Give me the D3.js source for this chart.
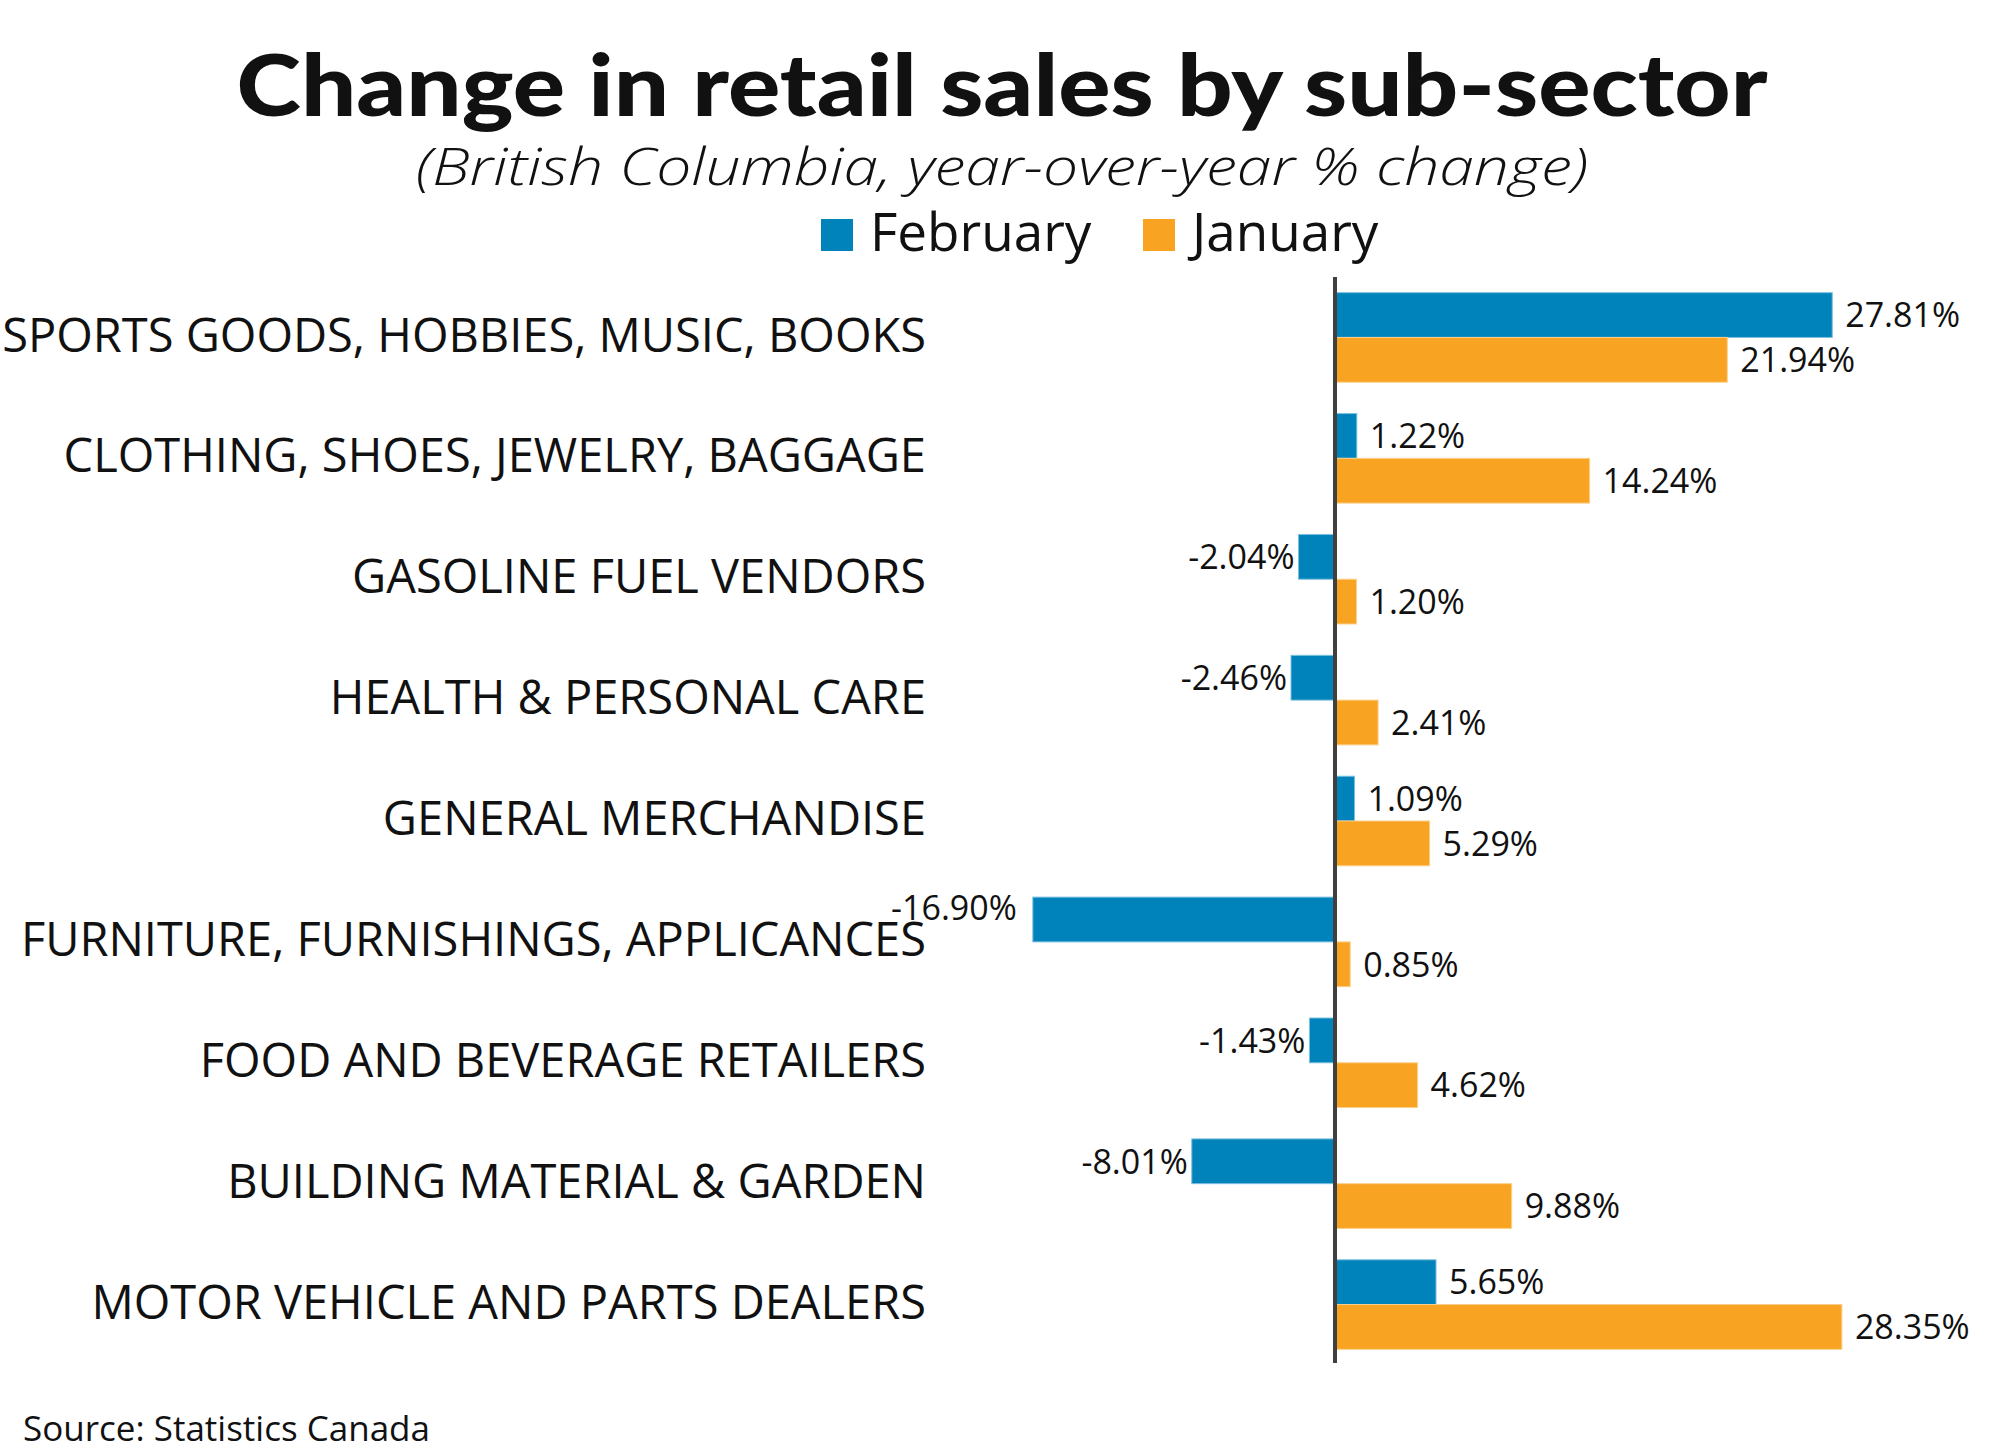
<!DOCTYPE html>
<html>
<head>
<meta charset="utf-8">
<script src="https://cdn.jsdelivr.net/npm/d3@7"></script>
<style>
  body { margin: 0; background: #fff; }
  text { font-family: 'Open Sans', sans-serif; fill: #111; }
</style>
</head>
<body>
<svg id="chart" width="2000" height="1451"></svg>
<script>
// Chart data
var categories = [
    'SPORTS GOODS, HOBBIES, MUSIC, BOOKS',
    'CLOTHING, SHOES, JEWELRY, BAGGAGE',
    'GASOLINE FUEL VENDORS',
    'HEALTH & PERSONAL CARE',
    'GENERAL MERCHANDISE',
    'FURNITURE, FURNISHINGS, APPLICANCES',
    'FOOD AND BEVERAGE RETAILERS',
    'BUILDING MATERIAL & GARDEN',
    'MOTOR VEHICLE AND PARTS DEALERS'
];
var seriesNames = ['February', 'January'];
var february = [27.81, 1.22, -2.04, -2.46, 1.09, -16.90, -1.43, -8.01, 5.65];
var january = [21.94, 14.24, 1.20, 2.41, 5.29, 0.85, 4.62, 9.88, 28.35];
var seriesColors = ['#0083bb', '#f8a321'];
var seriesStroke = ['#7cc0de', '#fbd08a'];

var svg = d3.select('#chart');

// Title block (stretched a little to the width of the original's wide face)
svg.append('text')
    .attr('x', 1002).attr('y', 116)
    .attr('text-anchor', 'middle')
    .attr('textLength', 1531)
    .attr('lengthAdjust', 'spacingAndGlyphs')
    .style('font-family', 'Lato, sans-serif')
    .style('font-weight', 900)
    .style('font-size', '86px')
    .text('Change in retail sales by sub-sector');

svg.append('text')
    .attr('x', 1002).attr('y', 185)
    .attr('text-anchor', 'middle')
    .attr('textLength', 1172)
    .attr('lengthAdjust', 'spacingAndGlyphs')
    .style('font-style', 'italic')
    .style('font-weight', 300)
    .style('font-size', '52px')
    .text('(British Columbia, year-over-year % change)');

// Legend
var legend = svg.append('g').attr('transform', 'translate(821,0)');
var legendX = [0, 322];
seriesNames.forEach(function(name, i) {
    var g = legend.append('g').attr('transform', 'translate(' + legendX[i] + ',0)');
    g.append('rect')
        .attr('x', 0).attr('y', 219)
        .attr('width', 32).attr('height', 32)
        .attr('fill', seriesColors[i]);
    g.append('text')
        .attr('x', 49).attr('y', 251)
        .style('font-size', '53px')
        .text(name);
});

// Scales
var x = d3.scaleLinear().domain([-20, 30]).range([1335 - 20 * 17.88, 1335 + 30 * 17.88]);
var y0 = d3.scaleBand().domain(categories).range([277, 1365]);
var y1 = d3.scaleBand().domain(seriesNames).range([0, y0.bandwidth()]).paddingOuter(0.35);

var rows = categories.map(function(c, i) {
    return {category: c, values: [february[i], january[i]]};
});

var fmt = function(v) { return d3.format('.2f')(v).replace('\u2212', '-') + '%'; };

var chartG = svg.append('g');

var row = chartG.selectAll('.row')
    .data(rows)
    .enter()
    .append('g')
    .attr('class', 'row')
    .attr('transform', function(d) { return 'translate(0,' + y0(d.category) + ')'; });

// Category labels
row.append('text')
    .attr('x', 926)
    .attr('y', y0.bandwidth() / 2)
    .attr('dy', '0.3em')
    .attr('text-anchor', 'end')
    .style('font-size', '47px')
    .text(function(d) { return d.category; });

var bars = row.selectAll('.bar')
    .data(function(d) {
        return d.values.map(function(v, i) { return {series: seriesNames[i], idx: i, value: v}; });
    })
    .enter();

bars.append('rect')
    .attr('class', 'bar')
    .attr('x', function(d) { return x(Math.min(0, d.value)); })
    .attr('y', function(d) { return y1(d.series); })
    .attr('width', function(d) { return Math.abs(x(d.value) - x(0)); })
    .attr('height', y1.bandwidth())
    .attr('fill', function(d) { return seriesColors[d.idx]; })
    .attr('stroke', function(d) { return seriesStroke[d.idx]; })
    .attr('stroke-width', 1);

// Value labels; the long negative one sits a bit higher, as in the original
bars.append('text')
    .attr('x', function(d) {
        if (d.value < -10) return x(d.value) - 16;
        return d.value < 0 ? x(d.value) - 4 : x(d.value) + 13;
    })
    .attr('y', function(d) {
        return y1(d.series) + y1.bandwidth() / 2 + (d.value < -10 ? -12 : 0);
    })
    .attr('dy', '0.36em')
    .attr('text-anchor', function(d) { return d.value < 0 ? 'end' : 'start'; })
    .style('font-size', '34px')
    .text(function(d) { return fmt(d.value); });

// Zero axis line
svg.append('line')
    .attr('x1', x(0)).attr('x2', x(0))
    .attr('y1', 277).attr('y2', 1363)
    .attr('stroke', '#404040')
    .attr('stroke-width', 4);

// Source
svg.append('text')
    .attr('x', 23).attr('y', 1441)
    .style('font-size', '35px')
    .text('Source: Statistics Canada');
</script>
</body>
</html>
